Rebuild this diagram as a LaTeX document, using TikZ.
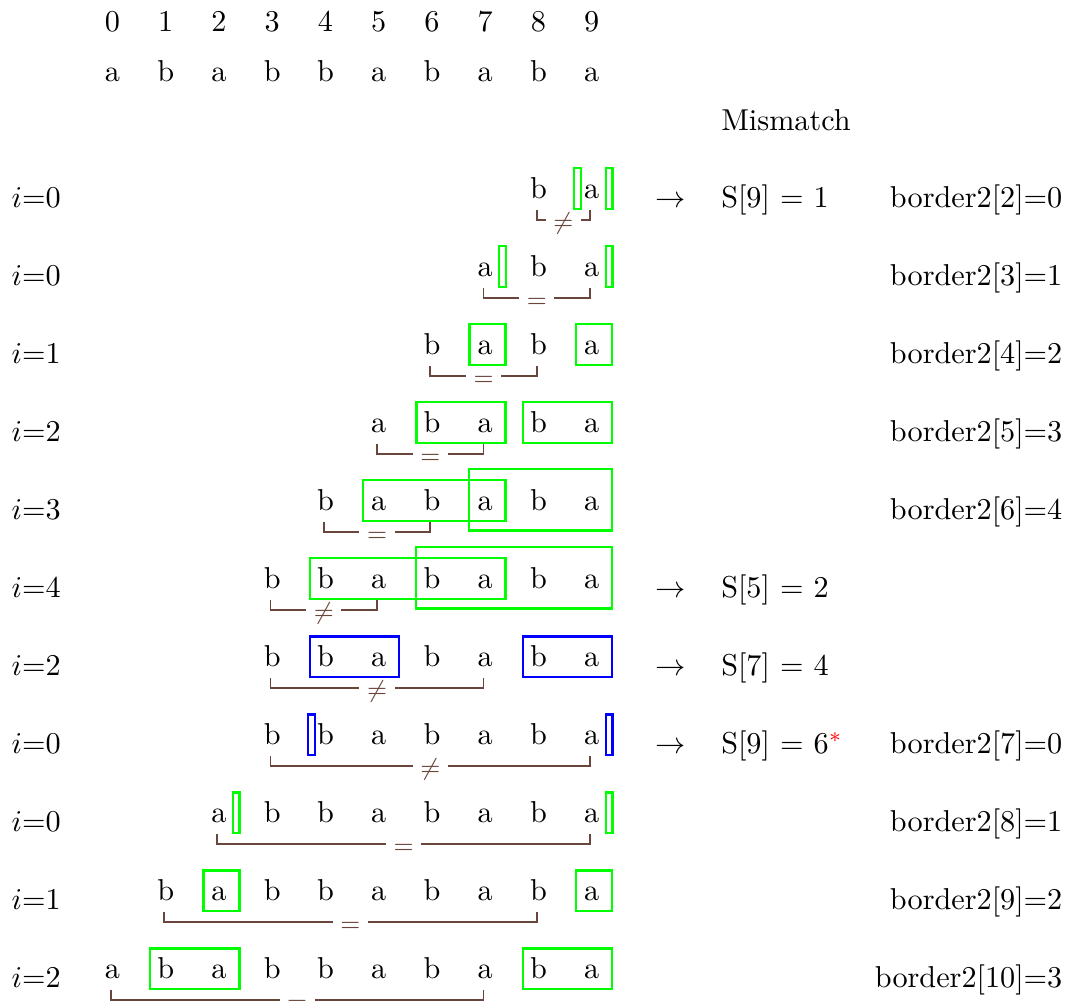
\documentclass[tikz,border=0pt]{standalone}
\usepackage{xcolor}
\usepackage{tikz}
\usetikzlibrary{calc}
\definecolor{brk}{RGB}{105,70,60}

\begin{document}
\begin{tikzpicture}[
  letter/.style={anchor=base, inner sep=0pt},
  txt/.style={anchor=base west, inner sep=0pt},
  res/.style={anchor=base east, inner sep=0pt},
  match/.style={draw=#1, line width=0.8pt},
  brack/.style={draw=brk, line width=0.6pt},
  lab/.style={font=\footnotesize, text=brk, fill=white, inner sep=2.5pt, anchor=base, yshift=-3pt}
]
\useasboundingbox (0,0) rectangle (12.512,-11.663);
\foreach \col/\ch in {0/a,1/b,2/a,3/b,4/b,5/a,6/b,7/a,8/b,9/a}{
  \node[letter] (n\col) at ({1.308+0.6192*\col},-0.366) {\col};
  \node[letter] (s\col) at ({1.308+0.6192*\col},-0.953) {\ch};
}
\node[txt] (mis) at (8.38,-1.523) {Mismatch};
\foreach \row/\iv/\st/\en/\rel in {0/0/8/9/\neq, 1/0/7/9/=, 2/1/6/8/=, 3/2/5/7/=, 4/3/4/6/=, 5/4/3/5/\neq,
    6/2/3/7/\neq, 7/0/3/9/\neq, 8/0/2/9/=, 9/1/1/8/=, 10/2/0/7/=}{
  \node[txt] (i\row) at (0.128,{-2.414-0.907*\row}) {$i$=\iv};
  \foreach \col/\ch in {0/a,1/b,2/a,3/b,4/b,5/a,6/b,7/a,8/b,9/a}{
    \ifnum\col<\st\else
      \node[letter] (l\row-\col) at ({1.308+0.6192*\col},{-2.314-0.907*\row}) {\ch};
    \fi
  }
  \draw[brack] ([shift={(-0.02,-0.128)}]l\row-\st.base) -- ([shift={(-0.02,-0.244)}]l\row-\st.base)
    -- node[lab]{$\rel$} ([shift={(-0.02,-0.244)}]l\row-\en.base) -- ([shift={(-0.02,-0.128)}]l\row-\en.base);
}
\foreach \row/\a/\b/\cl in {2/7/7/green, 2/9/9/green, 3/6/7/green, 3/8/9/green, 4/5/7/green, 5/4/7/green,
    6/4/5/blue, 6/8/9/blue, 9/2/2/green, 9/9/9/green, 10/1/2/green, 10/8/9/green}{
  \draw[match=\cl] ([shift={(-0.182,-0.116)}]l\row-\a.base) rectangle ([shift={(0.238,0.357)}]l\row-\b.base);
}
\foreach \row/\a/\b in {4/7/9, 5/6/9}{
  \draw[match=green] ([shift={(-0.189,-0.226)}]l\row-\a.base) rectangle ([shift={(0.235,0.490)}]l\row-\b.base);
}
\foreach \row/\a/\cl in {0/9/green, 1/7/green, 1/9/green, 7/9/blue, 8/2/green, 8/9/green}{
  \draw[match=\cl] ([shift={(0.163,-0.116)}]l\row-\a.base) rectangle ([shift={(0.240,0.357)}]l\row-\a.base);
}
\foreach \row/\a/\cl in {0/9/green, 7/4/blue}{
  \draw[match=\cl] ([shift={(-0.203,-0.116)}]l\row-\a.base) rectangle ([shift={(-0.123,0.357)}]l\row-\a.base);
}
\foreach \row/\val in {0/{S[9] = 1}, 5/{S[5] = 2}, 6/{S[7] = 4}, 7/{S[9] = 6$^{\textcolor{red}{*}}$}}{
  \node[txt] (ar\row) at (7.62,{-2.414-0.907*\row}) {$\rightarrow$};
  \node[txt] (sv\row) at (8.38,{-2.414-0.907*\row}) {\val};
}
\foreach \row/\bd in {0/{border2[2]=0}, 1/{border2[3]=1}, 2/{border2[4]=2}, 3/{border2[5]=3}, 4/{border2[6]=4},
    7/{border2[7]=0}, 8/{border2[8]=1}, 9/{border2[9]=2}, 10/{border2[10]=3}}{
  \node[res] (b\row) at (12.36,{-2.414-0.907*\row}) {\bd};
}
\end{tikzpicture}
\end{document}
